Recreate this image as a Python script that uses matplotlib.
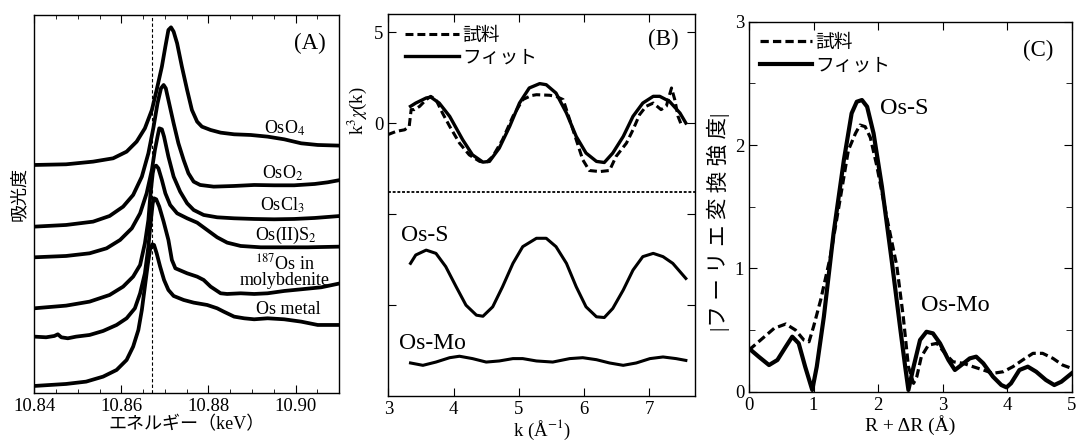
import matplotlib
matplotlib.use("Agg")
import matplotlib.pyplot as plt
from matplotlib.ticker import MultipleLocator

plt.rcParams['font.family'] = ['Liberation Serif', 'Noto Sans CJK JP']
plt.rcParams['mathtext.fontset'] = 'stix'
plt.rcParams['axes.linewidth'] = 1.0

# ---- (A) XANES spectra, energy (keV) vs absorbance (offset, arb. units)
e_oso4 = [10.8400, 10.8473, 10.8535, 10.8581, 10.8612, 10.8635, 10.8654, 10.8670, 10.8681, 10.8693,
          10.8701, 10.8708, 10.8714, 10.8720, 10.8728, 10.8739, 10.8751, 10.8762, 10.8774, 10.8785,
          10.8805, 10.8828, 10.8859, 10.8897, 10.8936, 10.8974, 10.9013, 10.9051, 10.9103]
a_oso4 = [6.85, 6.87, 6.95, 7.05, 7.25, 7.55, 7.95, 8.50, 9.10, 9.80,
          10.40, 10.90, 10.98, 10.85, 10.50, 9.80, 9.10, 8.50, 8.15, 8.00,
          7.90, 7.82, 7.77, 7.75, 7.70, 7.62, 7.50, 7.45, 7.43]

e_oso2 = [10.8400, 10.8473, 10.8535, 10.8573, 10.8604, 10.8627, 10.8647, 10.8662, 10.8674, 10.8683,
          10.8691, 10.8697, 10.8702, 10.8708, 10.8720, 10.8731, 10.8743, 10.8754, 10.8766, 10.8781,
          10.8812, 10.8859, 10.8905, 10.8951, 10.8997, 10.9044, 10.9074, 10.9103]
a_oso2 = [5.00, 5.05, 5.15, 5.32, 5.60, 5.95, 6.50, 7.20, 8.00, 8.70,
          9.15, 9.25, 9.15, 8.80, 8.10, 7.50, 7.00, 6.60, 6.35, 6.25,
          6.20, 6.22, 6.25, 6.24, 6.24, 6.28, 6.33, 6.40]

e_oscl3 = [10.8400, 10.8473, 10.8527, 10.8566, 10.8597, 10.8624, 10.8643, 10.8658, 10.8670, 10.8677,
           10.8683, 10.8687, 10.8693, 10.8698, 10.8708, 10.8720, 10.8735, 10.8751, 10.8766, 10.8789,
           10.8820, 10.8859, 10.8905, 10.8951, 10.8997, 10.9044, 10.9103]
a_oscl3 = [4.08, 4.12, 4.20, 4.35, 4.60, 4.95, 5.40, 6.00, 6.70, 7.30,
           7.70, 7.95, 7.92, 7.70, 7.10, 6.50, 6.05, 5.70, 5.50, 5.35,
           5.28, 5.25, 5.23, 5.22, 5.23, 5.26, 5.32]

e_oss2 = [10.8400, 10.8473, 10.8527, 10.8573, 10.8604, 10.8627, 10.8643, 10.8654, 10.8662, 10.8667,
          10.8672, 10.8675, 10.8680, 10.8685, 10.8693, 10.8701, 10.8712, 10.8728, 10.8751, 10.8774,
          10.8797, 10.8820, 10.8843, 10.8874, 10.8920, 10.8974, 10.9028, 10.9103]
a_oss2 = [2.55, 2.63, 2.75, 2.95, 3.20, 3.50, 3.85, 4.50, 5.20, 6.00,
          6.60, 6.80, 6.83, 6.75, 6.40, 6.00, 5.65, 5.40, 5.25, 5.12,
          4.90, 4.68, 4.52, 4.42, 4.38, 4.38, 4.38, 4.40]

e_moly = [10.8400, 10.8427, 10.8446, 10.8454, 10.8462, 10.8477, 10.8496, 10.8527, 10.8558, 10.8589,
          10.8612, 10.8631, 10.8643, 10.8654, 10.8662, 10.8667, 10.8672, 10.8675, 10.8680, 10.8687,
          10.8697, 10.8708, 10.8716, 10.8724, 10.8751, 10.8774, 10.8789, 10.8805, 10.8828, 10.8843,
          10.8874, 10.8905, 10.8936, 10.8974, 10.9013, 10.9059, 10.9103]
a_moly = [1.70, 1.68, 1.72, 1.77, 1.68, 1.65, 1.70, 1.75, 1.87, 2.05,
          2.25, 2.55, 3.00, 3.60, 4.40, 5.10, 5.70, 5.85, 5.82, 5.60,
          5.15, 4.60, 4.00, 3.75, 3.60, 3.50, 3.40, 3.20, 3.00, 2.98,
          3.00, 2.98, 3.00, 3.07, 3.12, 3.18, 3.30]

e_metal = [10.8400, 10.8473, 10.8519, 10.8558, 10.8589, 10.8612, 10.8627, 10.8639, 10.8647, 10.8654,
           10.8661, 10.8666, 10.8671, 10.8675, 10.8681, 10.8689, 10.8698, 10.8708, 10.8720, 10.8743,
           10.8766, 10.8797, 10.8820, 10.8835, 10.8859, 10.8882, 10.8905, 10.8936, 10.8974, 10.9013,
           10.9051, 10.9103]
a_metal = [0.22, 0.28, 0.35, 0.50, 0.70, 1.00, 1.40, 1.90, 2.50, 3.20,
           3.90, 4.32, 4.47, 4.45, 4.20, 3.80, 3.40, 3.10, 2.92, 2.80,
           2.72, 2.65, 2.55, 2.45, 2.30, 2.25, 2.22, 2.25, 2.22, 2.15,
           2.05, 2.05]

edge_energy = 10.867

# ---- (B) k^3 chi(k)
k_data = [2.99, 3.12, 3.25, 3.32, 3.35, 3.40, 3.48, 3.58, 3.65, 3.73,
          3.83, 3.94, 4.09, 4.24, 4.40, 4.50, 4.60, 4.75, 4.91, 5.06,
          5.19, 5.27, 5.47, 5.57, 5.68, 5.78, 5.88, 5.98, 6.08, 6.24,
          6.39, 6.49, 6.65, 6.75, 6.85, 6.95, 7.06, 7.18, 7.26, 7.34,
          7.39, 7.44, 7.49]
chi_data = [-0.64, -0.46, -0.37, -0.18, 0.74, 0.74, 0.92, 1.29, 1.47, 1.29,
            0.55, -0.18, -1.10, -1.75, -2.11, -2.17, -1.84, -0.92, 0.37, 1.29,
            1.51, 1.56, 1.53, 1.47, 1.29, 0.18, -0.92, -2.02, -2.61, -2.67,
            -2.61, -1.84, -1.10, -0.37, 0.46, 0.92, 1.10, 0.74, 0.92, 1.93,
            1.29, 0.37, -0.09]

k_fit = [3.34, 3.42, 3.58, 3.65, 3.78, 3.94, 4.14, 4.29, 4.45, 4.55,
         4.70, 4.86, 5.01, 5.16, 5.32, 5.42, 5.57, 5.73, 5.88, 6.03,
         6.19, 6.31, 6.44, 6.60, 6.75, 6.90, 7.06, 7.16, 7.31, 7.47, 7.56]
chi_fit = [0.92, 1.10, 1.38, 1.43, 1.10, 0.37, -0.92, -1.75, -2.15, -2.11,
           -1.38, -0.18, 1.10, 1.93, 2.17, 2.11, 1.65, 0.55, -0.74, -1.65,
           -2.11, -2.17, -1.65, -0.74, 0.37, 1.10, 1.47, 1.47, 1.19, 0.55, 0.00]

k_oss = [3.34, 3.42, 3.58, 3.73, 3.88, 4.04, 4.19, 4.35, 4.45, 4.60,
         4.75, 4.91, 5.06, 5.27, 5.42, 5.57, 5.73, 5.88, 6.03, 6.19,
         6.31, 6.44, 6.60, 6.75, 6.90, 7.06, 7.21, 7.36, 7.56]
chi_oss = [-7.72, -7.26, -6.99, -7.17, -7.90, -9.01, -10.02, -10.57, -10.63, -10.11,
           -9.01, -7.72, -6.80, -6.34, -6.34, -6.80, -7.72, -9.01, -10.11, -10.66,
           -10.70, -10.20, -9.19, -8.09, -7.35, -7.17, -7.35, -7.72, -8.55]

k_osmo = [3.34, 3.53, 3.73, 3.94, 4.09, 4.29, 4.50, 4.70, 4.91, 5.06,
          5.27, 5.52, 5.78, 5.98, 6.19, 6.39, 6.60, 6.80, 7.01, 7.21, 7.41, 7.56]
chi_osmo = [-13.20, -13.33, -13.15, -12.91, -12.83, -12.96, -13.15, -13.09, -12.96, -12.96,
            -13.09, -13.15, -12.96, -12.91, -13.02, -13.20, -13.33, -13.20, -12.96, -12.87,
            -12.96, -13.06]

separator_level = -3.8

# ---- (C) |FT|
r_data = [0.00, 0.18, 0.39, 0.57, 0.72, 0.85, 0.93, 1.00, 1.11, 1.26,
          1.41, 1.54, 1.65, 1.72, 1.80, 1.88, 1.98, 2.13, 2.29, 2.39,
          2.47, 2.55, 2.60, 2.67, 2.78, 2.91, 3.06, 3.16, 3.32, 3.47,
          3.63, 3.78, 3.94, 4.09, 4.24, 4.40, 4.55, 4.71, 4.86, 5.00]
ft_data = [0.338, 0.419, 0.514, 0.549, 0.500, 0.419, 0.405, 0.527, 0.743, 1.095,
           1.554, 1.959, 2.095, 2.162, 2.149, 2.061, 1.832, 1.426, 1.020, 0.608,
           0.203, 0.068, 0.122, 0.284, 0.378, 0.392, 0.297, 0.243, 0.230, 0.203,
           0.176, 0.149, 0.162, 0.203, 0.257, 0.311, 0.311, 0.270, 0.216, 0.189]

r_fit = [0.00, 0.15, 0.31, 0.44, 0.57, 0.67, 0.77, 0.87, 0.98, 1.05,
         1.16, 1.31, 1.47, 1.59, 1.67, 1.75, 1.83, 1.93, 2.06, 2.21,
         2.34, 2.42, 2.47, 2.55, 2.65, 2.75, 2.85, 2.96, 3.09, 3.19,
         3.29, 3.42, 3.52, 3.63, 3.78, 3.91, 3.99, 4.06, 4.19, 4.32,
         4.45, 4.60, 4.73, 4.84, 5.00]
ft_fit = [0.351, 0.284, 0.216, 0.257, 0.365, 0.446, 0.392, 0.203, 0.014, 0.203,
          0.608, 1.284, 1.878, 2.257, 2.351, 2.365, 2.311, 2.095, 1.662, 1.068,
          0.527, 0.203, 0.014, 0.203, 0.419, 0.486, 0.473, 0.392, 0.257, 0.176,
          0.216, 0.270, 0.284, 0.230, 0.122, 0.054, 0.035, 0.068, 0.176, 0.203,
          0.162, 0.095, 0.054, 0.081, 0.149]

tick_fs = 13.5

fig = plt.figure(figsize=(10.76, 4.42), dpi=100)
axA = fig.add_axes([0.0319, 0.1102, 0.2832, 0.8559])
axB = fig.add_axes([0.3609, 0.1048, 0.2850, 0.8635])
axC = fig.add_axes([0.6961, 0.1138, 0.2999, 0.8371])

# ---------------- panel A
for e, a in [(e_oso4, a_oso4), (e_oso2, a_oso2), (e_oscl3, a_oscl3),
             (e_oss2, a_oss2), (e_moly, a_moly), (e_metal, a_metal)]:
    axA.plot(e, a, color='black', lw=2.7, solid_joinstyle='round', solid_capstyle='round')
axA.axvline(edge_energy, color='black', lw=0.8, ls=(0, (3, 2)))
axA.set_xlim(10.84, 10.91)
axA.set_ylim(0, 11.35)
axA.set_yticks([])
axA.xaxis.set_major_locator(MultipleLocator(0.02))
axA.xaxis.set_minor_locator(MultipleLocator(0.005))
axA.tick_params(axis='x', which='both', direction='in', top=True, labelsize=tick_fs)
axA.tick_params(axis='x', which='major', length=6)
axA.tick_params(axis='x', which='minor', length=3)
axA.xaxis.set_major_formatter(plt.FormatStrFormatter('%.2f'))

lab_fs = 13
axA.text(10.8974, 7.95, r'OsO$_4$', fontsize=lab_fs, ha='center', va='center')
axA.text(10.8970, 6.60, r'OsO$_2$', fontsize=lab_fs, ha='center', va='center')
axA.text(10.8970, 5.65, r'OsCl$_3$', fontsize=lab_fs, ha='center', va='center')
axA.text(10.8977, 4.75, r'Os(II)S$_2$', fontsize=lab_fs, ha='center', va='center')
axA.text(10.8975, 3.66, '$^{187}$Os in\nmolybdenite', fontsize=lab_fs, ha='center', va='center',
         linespacing=0.95)
axA.text(10.8983, 2.52, 'Os metal', fontsize=lab_fs, ha='center', va='center')
axA.text(10.9034, 10.5, '(A)', fontsize=16.5, ha='center', va='center')
axA.text(-0.05, 0.527, '吸光度', transform=axA.transAxes, rotation=90,
         fontsize=13, ha='center', va='center')
axA.set_xlabel('エネルギー（keV）', fontsize=13, labelpad=1)

# ---------------- panel B
axB.plot(k_data, chi_data, color='black', lw=2.2, ls=(0, (2.6, 1.3)), label='試料')
axB.plot(k_fit, chi_fit, color='black', lw=2.4, label='フィット')
axB.plot(k_oss, chi_oss, color='black', lw=2.2)
axB.plot(k_osmo, chi_osmo, color='black', lw=2.2)
axB.axhline(separator_level, color='black', lw=1.3, ls=(0, (1.6, 1.0)))
axB.set_xlim(3, 7.7)
axB.set_ylim(-15, 6)
axB.set_xticks([3, 4, 5, 6, 7])
axB.set_yticks([5, 0, -5, -10])
axB.set_yticklabels(['5', '0', '', ''])
axB.tick_params(direction='in', top=True, right=True, length=6, labelsize=tick_fs)
axB.text(3.19, -6.16, 'Os-S', fontsize=17, ha='left', va='center')
axB.text(3.17, -12.13, 'Os-Mo', fontsize=17, ha='left', va='center')
axB.text(7.21, 4.6, '(B)', fontsize=16.5, ha='center', va='center')
axB.text(-0.102, 0.748, r'k$^{3}\chi$(k)', transform=axB.transAxes, rotation=90,
         fontsize=13.5, ha='center', va='center')
axB.set_xlabel('k (Å$^{-1}$)', fontsize=13.5, labelpad=0)
axB.legend(loc='upper left', bbox_to_anchor=(0.03, 0.985), frameon=False, fontsize=13.5,
           handlelength=2.9, handletextpad=0.15, labelspacing=0.25, borderaxespad=0.0)

# ---------------- panel C
axC.plot(r_data, ft_data, color='black', lw=2.3, ls=(0, (2.6, 1.3)), label='試料')
axC.plot(r_fit, ft_fit, color='black', lw=3.0, label='フィット')
axC.set_xlim(0, 5)
axC.set_ylim(0, 3)
axC.set_xticks([0, 1, 2, 3, 4, 5])
axC.yaxis.set_major_locator(MultipleLocator(1))
axC.yaxis.set_minor_locator(MultipleLocator(0.5))
axC.tick_params(which='both', direction='in', top=True, right=True, labelsize=tick_fs)
axC.tick_params(which='major', length=6)
axC.tick_params(which='minor', length=4)
axC.text(2.03, 2.30, 'Os-S', fontsize=17.5, ha='left', va='center')
axC.text(2.67, 0.695, 'Os-Mo', fontsize=17.5, ha='left', va='center')
axC.text(4.48, 2.77, '(C)', fontsize=16.5, ha='center', va='center')
axC.text(-0.096, 0.459, '|フ ー リ エ 変 換 強 度|', transform=axC.transAxes, rotation=90,
         fontsize=15.5, ha='center', va='center')
axC.set_xlabel('R + ΔR (Å)', fontsize=14, labelpad=1)
axC.legend(loc='upper left', bbox_to_anchor=(0.01, 0.985), frameon=False, fontsize=13.5,
           handlelength=2.8, handletextpad=0.15, labelspacing=0.3, borderaxespad=0.0)

fig.savefig('out.png', dpi=100)
